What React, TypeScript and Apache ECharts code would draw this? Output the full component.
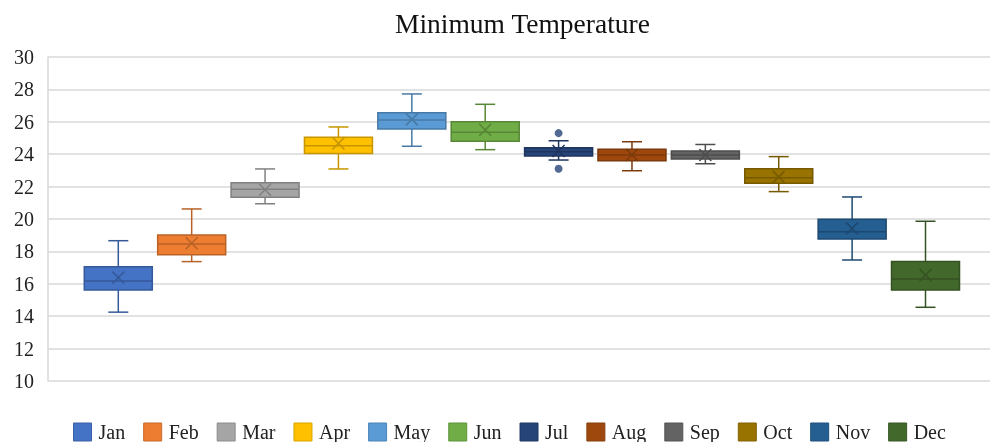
import React, { useEffect, useRef } from "react";
import * as echarts from "echarts";

// Monthly minimum temperature distributions (°C)
const months = ["Jan", "Feb", "Mar", "Apr", "May", "Jun", "Jul", "Aug", "Sep", "Oct", "Nov", "Dec"];
const whiskerLow = [14.25, 17.37, 20.94, 23.09, 24.49, 24.28, 23.64, 22.98, 23.41, 21.69, 17.47, 14.55];
const quartile1 = [15.62, 17.8, 21.34, 24.05, 25.56, 24.8, 23.89, 23.6, 23.7, 22.2, 18.77, 15.62];
const medians = [16.17, 18.46, 21.83, 24.52, 26.11, 25.35, 24.15, 23.95, 23.95, 22.55, 19.22, 16.3];
const quartile3 = [17.06, 19.01, 22.24, 25.04, 26.56, 26.0, 24.4, 24.3, 24.2, 23.1, 19.98, 17.37];
const whiskerHigh = [18.66, 20.62, 23.09, 25.68, 27.72, 27.08, 24.83, 24.77, 24.6, 23.85, 21.36, 19.86];
const means = [16.38, 18.5, 21.8, 24.67, 26.15, 25.5, 24.2, 23.95, 23.95, 22.6, 19.42, 16.54];
const julOutliers = [25.3, 23.1];
const yTicks = { min: 10, max: 30, step: 2 };

const palette = [
  "#4472C4", "#ED7D31", "#A5A5A5", "#FFC000", "#5B9BD5", "#70AD47",
  "#264478", "#9E480E", "#636363", "#997300", "#255E91", "#43682B",
];

const darken = (hex: string, f: number) => {
  const n = parseInt(hex.slice(1), 16);
  const r = Math.round(((n >> 16) & 255) * f);
  const g = Math.round(((n >> 8) & 255) * f);
  const b = Math.round((n & 255) * f);
  return `rgb(${r},${g},${b})`;
};

const SERIF = "'Liberation Serif', 'Times New Roman', serif";

export default function App() {
  const ref = useRef<HTMLDivElement>(null);

  useEffect(() => {
    if (!ref.current) return;
    const chart = echarts.init(ref.current, undefined, { renderer: "svg" });

    const boxSeries = months.map((m, i) => {
      const color = palette[i];
      const edge = darken(color, 0.78);
      return {
        name: m,
        type: "custom",
        xAxisIndex: 1,
        yAxisIndex: 1,
        itemStyle: { color, borderColor: edge, borderWidth: 1 },
        encode: { x: 0, y: [1, 2, 3, 4, 5, 6] },
        data: [[i, whiskerLow[i], quartile1[i], medians[i], quartile3[i], whiskerHigh[i], means[i]]],
        renderItem: (params: any, api: any) => {
          const idx = api.value(0);
          const pLow = api.coord([idx, api.value(1)]);
          const pQ1 = api.coord([idx, api.value(2)]);
          const pMed = api.coord([idx, api.value(3)]);
          const pQ3 = api.coord([idx, api.value(4)]);
          const pHigh = api.coord([idx, api.value(5)]);
          const pMean = api.coord([idx, api.value(6)]);
          const cx = pLow[0];
          const half = 34;
          const cap = 10;
          const xs = 6;
          const lw = 1.5;
          const lineStyle = { stroke: edge, lineWidth: lw, fill: null };
          return {
            type: "group",
            children: [
              { type: "line", shape: { x1: cx, y1: pQ3[1], x2: cx, y2: pHigh[1] }, style: lineStyle },
              { type: "line", shape: { x1: cx, y1: pQ1[1], x2: cx, y2: pLow[1] }, style: lineStyle },
              { type: "line", shape: { x1: cx - cap, y1: pHigh[1], x2: cx + cap, y2: pHigh[1] }, style: lineStyle },
              { type: "line", shape: { x1: cx - cap, y1: pLow[1], x2: cx + cap, y2: pLow[1] }, style: lineStyle },
              {
                type: "rect",
                shape: { x: cx - half, y: pQ3[1], width: half * 2, height: pQ1[1] - pQ3[1] },
                style: { fill: color, stroke: edge, lineWidth: lw },
              },
              { type: "line", shape: { x1: cx - half, y1: pMed[1], x2: cx + half, y2: pMed[1] }, style: lineStyle },
              { type: "line", shape: { x1: cx - xs, y1: pMean[1] - xs, x2: cx + xs, y2: pMean[1] + xs }, style: lineStyle },
              { type: "line", shape: { x1: cx - xs, y1: pMean[1] + xs, x2: cx + xs, y2: pMean[1] - xs }, style: lineStyle },
            ],
          };
        },
      };
    });

    const outlierSeries = {
      name: "Jul",
      type: "scatter",
      xAxisIndex: 1,
      yAxisIndex: 1,
      symbol: "circle",
      symbolSize: 8,
      itemStyle: { color: palette[6] },
      data: julOutliers.map((v) => [6, v]),
    };

    chart.setOption({
      animation: false,
      title: {
        text: "Minimum Temperature",
        left: 390,
        top: 4,
        textStyle: { fontFamily: SERIF, fontSize: 27.5, fontWeight: "normal", color: "#111" },
      },
      legend: {
        data: months.map((m, i) => ({
          name: m,
          itemStyle: { color: palette[i], borderColor: darken(palette[i], 0.85), borderWidth: 1 },
        })),
        left: 73,
        top: 422,
        padding: 0,
        itemWidth: 18,
        itemHeight: 18,
        itemGap: 18,
        icon: "rect",
        textStyle: { fontFamily: SERIF, fontSize: 20, color: "#222", padding: [0, 0, 0, 2] },
      },
      grid: [
        { left: 48, right: 2, top: 57, bottom: 61 },
        { left: 81.6, right: 29.8, top: 57, bottom: 61 },
      ],
      xAxis: [
        { type: "value", gridIndex: 0, min: 0, max: 1, show: false },
        { type: "category", gridIndex: 1, data: months, show: false, boundaryGap: true },
      ],
      yAxis: [
        {
          type: "value",
          gridIndex: 0,
          min: yTicks.min,
          max: yTicks.max,
          interval: yTicks.step,
          axisLine: { show: true, lineStyle: { color: "#d9d9d9", width: 1.5 } },
          axisTick: { show: false },
          splitLine: { show: true, lineStyle: { color: "#d9d9d9", width: 1.5 } },
          axisLabel: { fontFamily: SERIF, fontSize: 20, color: "#222", margin: 14 },
        },
        { type: "value", gridIndex: 1, min: yTicks.min, max: yTicks.max, show: false },
      ],
      series: [...boxSeries, outlierSeries],
    });

    return () => chart.dispose();
  }, []);

  return <div ref={ref} style={{ position: "fixed", left: 0, top: 0, width: 992, height: 442 }} />;
}
